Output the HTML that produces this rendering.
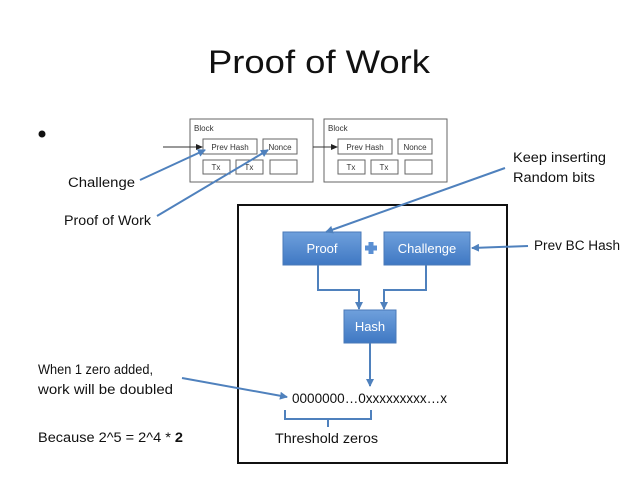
<!DOCTYPE html>
<html><head><meta charset="utf-8"><style>
html,body{margin:0;padding:0;background:#fff;}
svg{display:block;font-family:"Liberation Sans",sans-serif;}
</style></head><body>
<svg width="638" height="479" viewBox="0 0 638 479">
<defs>
<marker id="a" markerWidth="8" markerHeight="8" refX="7" refY="4" orient="auto" markerUnits="userSpaceOnUse"><path d="M0,0 L8,4 L0,8 z" fill="#4f81bd"/></marker>
<marker id="k" markerWidth="7" markerHeight="6" refX="6" refY="3" orient="auto" markerUnits="userSpaceOnUse"><path d="M0,0 L7,3 L0,6 z" fill="#222"/></marker>
<linearGradient id="g" x1="0" y1="0" x2="0" y2="1"><stop offset="0" stop-color="#6fa0dc"/><stop offset="1" stop-color="#3f78c3"/></linearGradient>
</defs>
<text x="319" y="73" font-size="32" text-anchor="middle" fill="#111" textLength="222" lengthAdjust="spacingAndGlyphs">Proof of Work</text>
<circle cx="42" cy="134" r="3.5" fill="#111"/>
<!-- blocks -->
<g fill="none" stroke="#666" stroke-width="1">
<rect x="190" y="119" width="123" height="63"/>
<rect x="203" y="139" width="54" height="15"/><rect x="263" y="139" width="34" height="15"/>
<rect x="203" y="160" width="27" height="14"/><rect x="236" y="160" width="27" height="14"/><rect x="270" y="160" width="27" height="14"/>
<rect x="324" y="119" width="123" height="63"/>
<rect x="338" y="139" width="54" height="15"/><rect x="398" y="139" width="34" height="15"/>
<rect x="338" y="160" width="27" height="14"/><rect x="371" y="160" width="27" height="14"/><rect x="405" y="160" width="27" height="14"/>
</g>
<line x1="163" y1="147" x2="202" y2="147" stroke="#333" marker-end="url(#k)"/>
<line x1="313" y1="147" x2="337" y2="147" stroke="#333" marker-end="url(#k)"/>
<g font-size="8" fill="#333">
<text x="194" y="131">Block</text><text x="328" y="131">Block</text>
<text x="230" y="150" text-anchor="middle">Prev Hash</text><text x="280" y="150" text-anchor="middle">Nonce</text>
<text x="216" y="170" text-anchor="middle">Tx</text><text x="249" y="170" text-anchor="middle">Tx</text>
<text x="365" y="150" text-anchor="middle">Prev Hash</text><text x="415" y="150" text-anchor="middle">Nonce</text>
<text x="351" y="170" text-anchor="middle">Tx</text><text x="384" y="170" text-anchor="middle">Tx</text>
</g>
<!-- big box -->
<rect x="238" y="205" width="269" height="258" fill="none" stroke="#111" stroke-width="2"/>
<!-- nodes -->
<rect x="283" y="232" width="78" height="33" fill="url(#g)" stroke="#4a7ab8"/>
<rect x="384" y="232" width="86" height="33" fill="url(#g)" stroke="#4a7ab8"/>
<rect x="344" y="310" width="52" height="33" fill="url(#g)" stroke="#4a7ab8"/>
<path d="M365,248 h12 M371,242 v12" stroke="#5a8fd3" stroke-width="5"/>
<g font-size="13" fill="#fff" text-anchor="middle">
<text x="322" y="253">Proof</text><text x="427" y="253">Challenge</text><text x="370" y="331">Hash</text>
</g>
<g fill="none" stroke="#4f81bd" stroke-width="2">
<path d="M318,265 V290 H359 V309" marker-end="url(#a)"/>
<path d="M426,265 V290 H384 V309" marker-end="url(#a)"/>
<path d="M370,343 V386" marker-end="url(#a)"/>
<line x1="140" y1="180" x2="205" y2="150" marker-end="url(#a)"/>
<line x1="157" y1="216" x2="268" y2="150" marker-end="url(#a)"/>
<line x1="505" y1="168" x2="326" y2="232" marker-end="url(#a)"/>
<line x1="528" y1="246" x2="472" y2="248" marker-end="url(#a)"/>
<line x1="182" y1="378" x2="287" y2="397" marker-end="url(#a)"/>
<path d="M285,410 V419 H371 V410 M328,419 V427"/>
</g>
<g font-size="13.5" fill="#111">
<text x="292" y="403" textLength="155" lengthAdjust="spacingAndGlyphs">0000000…0xxxxxxxxx…x</text>
<text x="275" y="443" textLength="103" lengthAdjust="spacingAndGlyphs">Threshold zeros</text>
<text x="68" y="187" textLength="67" lengthAdjust="spacingAndGlyphs">Challenge</text>
<text x="64" y="225" textLength="87" lengthAdjust="spacingAndGlyphs">Proof of Work</text>
<text x="513" y="162" textLength="93" lengthAdjust="spacingAndGlyphs">Keep inserting</text>
<text x="513" y="182" textLength="82" lengthAdjust="spacingAndGlyphs">Random bits</text>
<text x="534" y="250" textLength="86" lengthAdjust="spacingAndGlyphs">Prev BC Hash</text>
<text x="38" y="374" textLength="115" lengthAdjust="spacingAndGlyphs">When 1 zero added,</text>
<text x="38" y="394" textLength="135" lengthAdjust="spacingAndGlyphs">work will be doubled</text>
<text x="38" y="442" textLength="145" lengthAdjust="spacingAndGlyphs">Because 2^5 = 2^4 * <tspan font-weight="bold">2</tspan></text>
</g>
</svg>
</body></html>
